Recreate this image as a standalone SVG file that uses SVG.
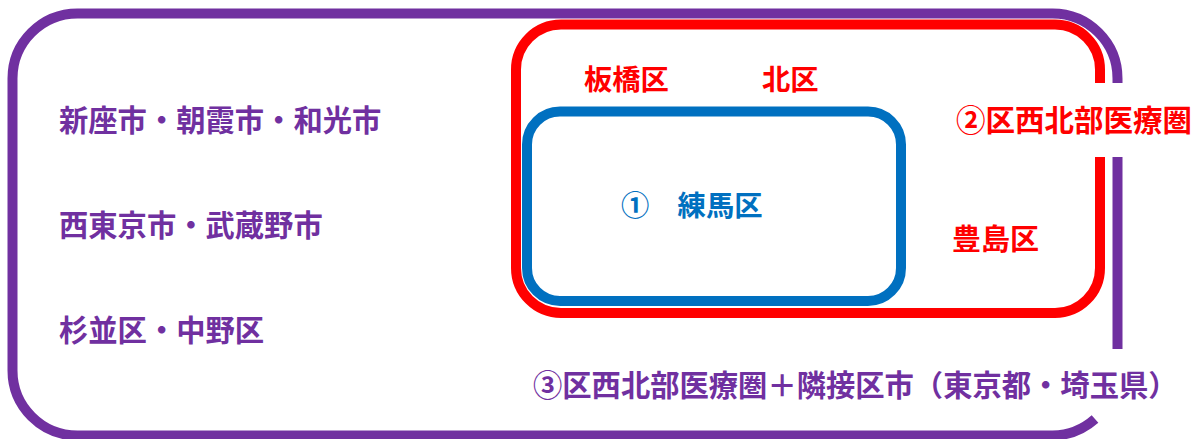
<svg xmlns="http://www.w3.org/2000/svg" width="1199" height="439" viewBox="0 0 1199 439">
<style>
.ln{fill:none;stroke-width:10}
.t{font-family:"Noto Sans CJK JP","Noto Sans CJK SC",sans-serif;font-weight:700}
.pu{fill:#7030A0}
.rd{fill:#FF0000}
.bl{fill:#0070C0}
</style>
<rect width="1199" height="439" fill="#FFFFFF"/>
<g id="connectors">
<path id="area3" class="ln" stroke="#7030A0" d="M1117.5,83 V78.5 A65,65 0 0 0 1052.5,13.5 H77.5 A65,65 0 0 0 12.5,78.5 V370.5 A65,65 0 0 0 77.5,435.5 H1052.5 A65,65 0 0 0 1095,419"/>
<path id="area3b" class="ln" stroke="#7030A0" d="M1117.5,157 V349"/>
<path id="area2" class="ln" stroke="#FF0000" d="M1100,83 V69.5 A45,45 0 0 0 1055,24.5 H561 A45,45 0 0 0 516,69.5 V268 A45,45 0 0 0 561,313 H1055 A45,45 0 0 0 1100,268 V157"/>
<rect id="area1" class="ln" stroke="#0070C0" x="527" y="111.5" width="374" height="189.5" rx="33"/>
</g>
<g id="n-niiza"><text class="t pu" x="59" y="131" font-size="29.3">新座市・朝霞市・和光市</text></g>
<g id="n-nishitokyo"><text class="t pu" x="59" y="236" font-size="29.3">西東京市・武蔵野市</text></g>
<g id="n-suginami"><text class="t pu" x="59" y="341" font-size="29.3">杉並区・中野区</text></g>
<g id="n-area3"><text class="t pu" x="533" y="396" font-size="29.3">③区西北部医療圏＋隣接区市（東京都・埼玉県）</text></g>
<g id="n-itabashi"><text class="t rd" x="584" y="90" font-size="28.3">板橋区</text></g>
<g id="n-kita"><text class="t rd" x="762" y="90" font-size="28.3">北区</text></g>
<g id="n-area2"><text class="t rd" x="956" y="131" font-size="29.5">②区西北部医療圏</text></g>
<g id="n-toshima"><text class="t rd" x="952" y="250" font-size="29">豊島区</text></g>
<g id="n-nerima"><text class="t bl" x="621" y="216" font-size="28.3">①　練馬区</text></g>
</svg>
